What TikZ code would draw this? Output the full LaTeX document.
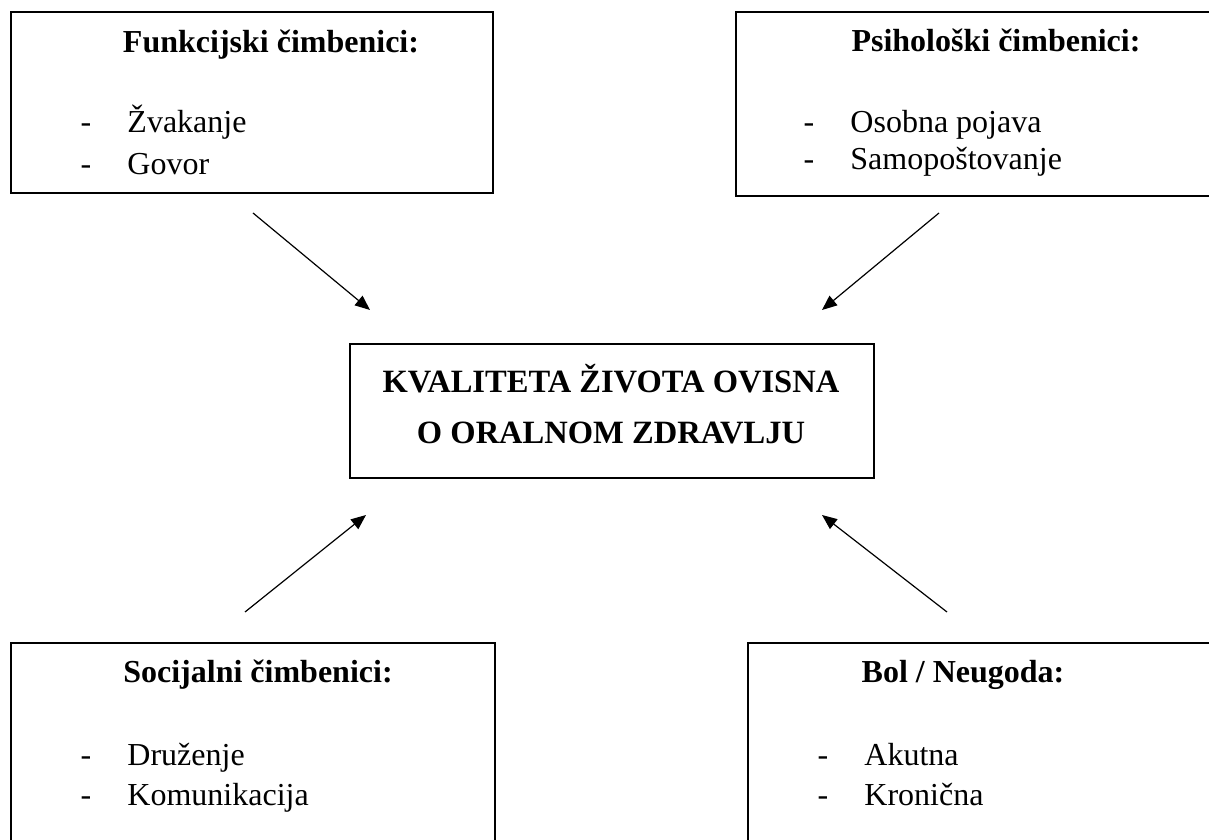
\documentclass[tikz,border=0pt]{standalone}
\usepackage{fontspec}
\setmainfont{Liberation Serif}
\usetikzlibrary{arrows.meta, positioning}

\begin{document}
\begin{tikzpicture}[x=0.375pt, y=-0.375pt,
    >={Triangle[length=5.6pt,width=4.6pt]},
    panel/.style={draw, line width=0.8pt, inner sep=0pt, anchor=north west},
    heading/.style={font=\fontsize{12}{14}\selectfont\bfseries, anchor=base, inner sep=0pt},
    item/.style={font=\fontsize{12}{14}\selectfont, anchor=base west, inner sep=0pt},
    centre/.style={font=\fontsize{12.2}{15}\selectfont\bfseries, anchor=base, inner sep=0pt},
    arr/.style={->, line width=0.45pt}]
  \clip (0,0) rectangle (1209,840);

  % boxes
  \node[panel, minimum width=180.75pt, minimum height=67.9pt] (funk) at (10,11) {};
  \node[panel, minimum width=180pt, minimum height=69pt] (psih) at (735,11) {};
  \node[panel, minimum width=196.5pt, minimum height=50.25pt] (qol) at (349,343) {};
  \node[panel, minimum width=181.5pt, minimum height=78pt] (soc) at (10,642) {};
  \node[panel, minimum width=175.5pt, minimum height=78pt] (bol) at (747,642) {};

  % texts
  \node[heading] (funkt) at (271,53) {Funkcijski čimbenici:};
  \node[item] (funk1) at (80,133) {\makebox[17.6pt][l]{-}Žvakanje};
  \node[item] (funk2) at (80,175) {\makebox[17.6pt][l]{-}Govor};

  \node[heading] (psiht) at (996,52) {Psihološki čimbenici:};
  \node[item] (psih1) at (803,133) {\makebox[17.6pt][l]{-}Osobna pojava};
  \node[item] (psih2) at (803,170) {\makebox[17.6pt][l]{-}Samopoštovanje};

  \node[centre] (qol1) at (611,393) {KVALITETA ŽIVOTA OVISNA};
  \node[centre] (qol2) at (611,444) {O ORALNOM ZDRAVLJU};

  \node[heading] (soct) at (258,682) {Socijalni čimbenici:};
  \node[item] (soc1) at (80,765) {\makebox[17.6pt][l]{-}Druženje};
  \node[item] (soc2) at (80,805) {\makebox[17.6pt][l]{-}Komunikacija};

  \node[heading] (bolt) at (963,682) {Bol / Neugoda:};
  \node[item] (bol1) at (817,765) {\makebox[17.6pt][l]{-}Akutna};
  \node[item] (bol2) at (817,805) {\makebox[17.6pt][l]{-}Kronična};

  % arrow ends
  \coordinate (a1) at (253,213);  \coordinate (b1) at (370,310);
  \coordinate (a2) at (939,213);  \coordinate (b2) at (822,310);
  \coordinate (a3) at (245,612);  \coordinate (b3) at (366,515);
  \coordinate (a4) at (947,612);  \coordinate (b4) at (822,515);

  \draw[arr] (a1) -- (b1);
  \draw[arr] (a2) -- (b2);
  \draw[arr] (a3) -- (b3);
  \draw[arr] (a4) -- (b4);
\end{tikzpicture}
\end{document}
